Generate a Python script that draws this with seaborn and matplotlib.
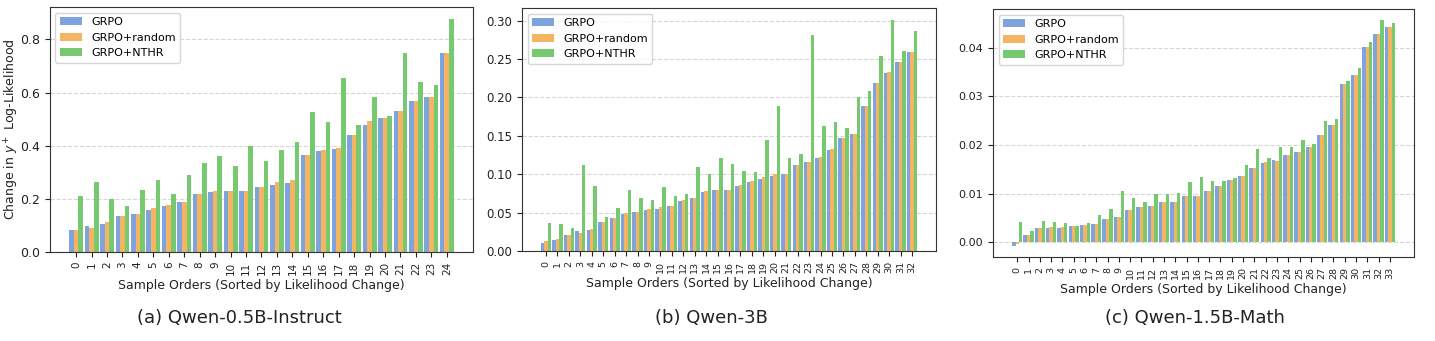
import numpy as np
import pandas as pd
import matplotlib
matplotlib.use('Agg')
import matplotlib.pyplot as plt
import seaborn as sns

# 三个模型的似然变化数据
methods = ['GRPO', 'GRPO+random', 'GRPO+NTHR']
colors = ['#7FA3DC', '#F5B461', '#76C96E']

p1_grpo = [0.083, 0.098, 0.105, 0.135, 0.142, 0.158, 0.172, 0.19, 0.22, 0.224, 0.228, 0.228, 0.246,
           0.252, 0.261, 0.365, 0.38, 0.387, 0.442, 0.477, 0.506, 0.53, 0.567, 0.582, 0.747]
p1_random = [0.083, 0.09, 0.113, 0.135, 0.142, 0.165, 0.175, 0.19, 0.22, 0.23, 0.23, 0.228, 0.246,
             0.265, 0.271, 0.365, 0.384, 0.393, 0.442, 0.493, 0.506, 0.53, 0.567, 0.582, 0.75]
p1_nthr = [0.21, 0.262, 0.2, 0.172, 0.235, 0.27, 0.218, 0.29, 0.333, 0.36, 0.325, 0.397, 0.344,
           0.384, 0.413, 0.527, 0.49, 0.653, 0.477, 0.585, 0.511, 0.747, 0.64, 0.627, 0.878]

p2_grpo = [0.0105, 0.0137, 0.021, 0.0255, 0.0278, 0.0373, 0.0428, 0.0478, 0.0514, 0.0537, 0.0546,
           0.058, 0.0646, 0.069, 0.0774, 0.080, 0.080, 0.085, 0.090, 0.094, 0.098, 0.0997, 0.1115,
           0.116, 0.121, 0.131, 0.147, 0.153, 0.1885, 0.2185, 0.2317, 0.2458, 0.259]
p2_random = [0.013, 0.0155, 0.021, 0.024, 0.0287, 0.0373, 0.0428, 0.0496, 0.0514, 0.0546, 0.0569,
             0.058, 0.066, 0.069, 0.078, 0.080, 0.080, 0.0865, 0.0915, 0.0965, 0.0997, 0.0997, 0.1115,
             0.116, 0.1225, 0.1325, 0.147, 0.153, 0.1885, 0.2185, 0.2335, 0.2467, 0.259]
p2_nthr = [0.036, 0.035, 0.0305, 0.1115, 0.085, 0.0437, 0.0555, 0.0788, 0.069, 0.0665, 0.083,
           0.071, 0.0747, 0.109, 0.1006, 0.121, 0.1138, 0.1047, 0.1029, 0.1443, 0.189, 0.121, 0.1266,
           0.2818, 0.163, 0.1684, 0.160, 0.2008, 0.209, 0.2545, 0.3014, 0.261, 0.2869]

p3_grpo = [-0.0007, 0.0015, 0.003, 0.003, 0.003, 0.0033, 0.0036, 0.0038, 0.0048, 0.0053, 0.0067,
           0.0072, 0.0074, 0.0082, 0.0083, 0.0095, 0.0095, 0.0105, 0.0115, 0.0127, 0.0137, 0.0152,
           0.0162, 0.0169, 0.0179, 0.0185, 0.0195, 0.022, 0.0241, 0.0325, 0.0343, 0.0401, 0.0428, 0.0443]
p3_random = [-0.0003, 0.0015, 0.003, 0.0031, 0.0031, 0.0033, 0.0036, 0.0038, 0.0048, 0.0053, 0.0067,
             0.0072, 0.0074, 0.0082, 0.0083, 0.0095, 0.0095, 0.0105, 0.0115, 0.0129, 0.0137, 0.0152,
             0.0164, 0.0167, 0.0179, 0.0185, 0.0195, 0.022, 0.0241, 0.0325, 0.0343, 0.0401, 0.0427, 0.0443]
p3_nthr = [0.0041, 0.0023, 0.0044, 0.0042, 0.004, 0.0033, 0.0039, 0.0056, 0.0069, 0.0105, 0.0092,
           0.0082, 0.0099, 0.0099, 0.0101, 0.0124, 0.0134, 0.0126, 0.0126, 0.0133, 0.0159, 0.0192,
           0.0174, 0.0195, 0.0195, 0.021, 0.0202, 0.0249, 0.0254, 0.0331, 0.0359, 0.0411, 0.0456, 0.045]

captions = ['(a) Qwen-0.5B-Instruct', '(b) Qwen-3B', '(c) Qwen-1.5B-Math']
xlabel = 'Sample Orders (Sorted by Likelihood Change)'
ylabel = 'Change in $y^+$ Log-Likelihood'

panels = [
    (p1_grpo, p1_random, p1_nthr),
    (p2_grpo, p2_random, p2_nthr),
    (p3_grpo, p3_random, p3_nthr),
]

# 每个子图的位置 [left, bottom, width, height] 和字号
positions = [
    [0.0348, 0.261, 0.2948, 0.7185],
    [0.3638, 0.264, 0.2885, 0.7125],
    [0.692, 0.2463, 0.2934, 0.7273],
]
ytick_sizes = [9, 8.5, 8]
xtick_sizes = [7.5, 6.8, 6.8]
caption_x = [0.167, 0.496, 0.833]

fig = plt.figure(figsize=(14.35, 3.41), dpi=100)

for i, (g, r, n) in enumerate(panels):
    ax = fig.add_axes(positions[i])
    k = len(g)
    order = [str(j) for j in range(k)]
    df = pd.DataFrame({
        'order': order * 3,
        'value': g + r + n,
        'method': np.repeat(methods, k),
    })
    sns.barplot(data=df, x='order', y='value', hue='method', order=order,
                hue_order=methods, palette=colors, width=0.9, saturation=1,
                errorbar=None, ax=ax)
    pad = 0.05 * (k - 1 + 0.9)
    ax.set_xlim(-0.45 - pad, k - 1 + 0.45 + pad)
    ax.grid(axis='y', linestyle='--', color='#cccccc', linewidth=0.8, alpha=0.8)
    ax.set_axisbelow(True)
    for s in ax.spines.values():
        s.set_color('#333333')
    ax.tick_params(axis='x', rotation=90, labelsize=xtick_sizes[i], colors='#222222')
    ax.tick_params(axis='y', labelsize=ytick_sizes[i], colors='#222222')
    ax.set_xlabel(xlabel, fontsize=9, color='#222222', labelpad=3)
    if i == 0:
        ax.set_ylabel(ylabel, fontsize=9, color='#222222')
        ax.yaxis.set_label_coords(-0.068, 0.5)
    else:
        ax.set_ylabel('')
    sns.move_legend(ax, 'upper left', title=None, fontsize=8)
    fig.text(caption_x[i], 0.067, captions[i], ha='center', va='center', fontsize=13,
             family=['Liberation Sans Narrow', 'DejaVu Sans'], color='#222222')

fig.savefig('out.png', dpi=100)
